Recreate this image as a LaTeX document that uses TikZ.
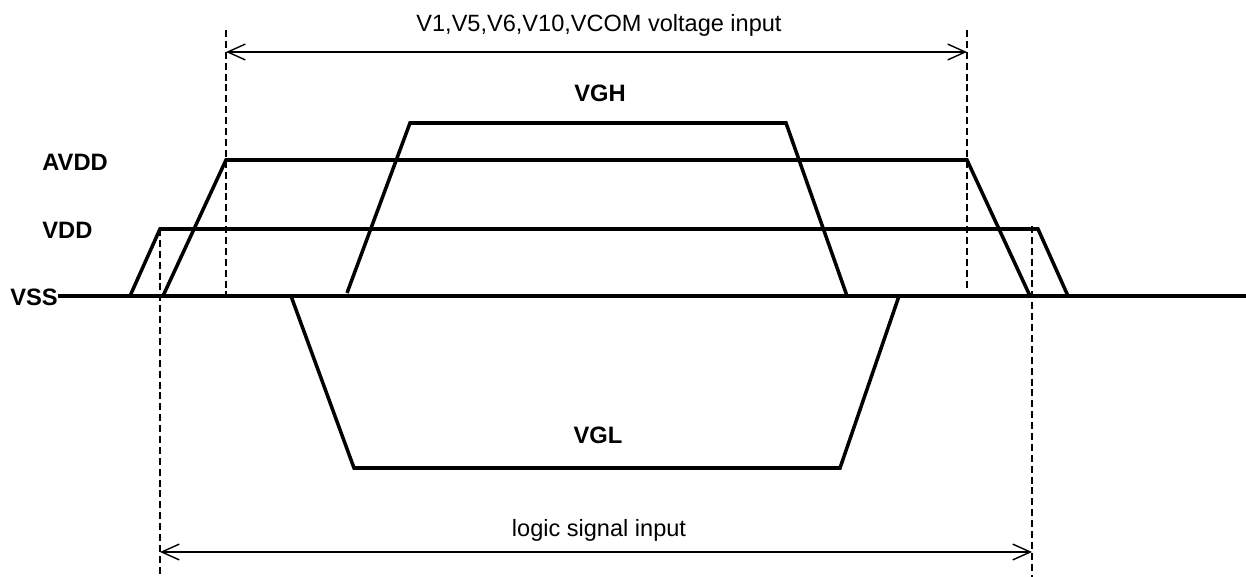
\documentclass[tikz,border=0pt]{standalone}
\usepackage{fontspec}
\setmainfont{Liberation Sans}
\usetikzlibrary{arrows.meta}

\tikzset{
  sig/.style={line width=2pt, line join=miter},
  guide/.style={line width=0.9pt, dash pattern=on 4pt off 2.2pt},
  span/.style={line width=0.8pt,
    {Straight Barb[length=10pt,width=9pt]}-{Straight Barb[length=10pt,width=9pt]}},
  lvl/.style={font=\bfseries\fontsize{13.5}{15}\selectfont, inner sep=0pt},
  txt/.style={font=\fontsize{13.4}{15}\selectfont, inner sep=0pt}
}

\begin{document}
\begin{tikzpicture}[x=0.02cm,y=-0.02cm]
\useasboundingbox (0,0) rectangle (1246,577);

% levels
\node (avdd) at (42,162) [lvl, anchor=west] {AVDD};
\node (vdd) at (42,230) [lvl, anchor=west] {VDD};
\node (vss) at (10,297) [lvl, anchor=west] {VSS};
\node (vgh) at (600,93) [lvl] {VGH};
\node (vgl) at (598,435) [lvl] {VGL};

\draw [sig] (vss.east |- 0,296) -- (1246,296);

% supplies
\draw [sig] (130,296) -- (160,229) -- (1038,229) -- (1068,296);
\draw [sig] (163,296) -- (226,160) -- (967,160) -- (1030,296);
\draw [sig] (347,293) -- (410,123) -- (786,123) -- (847,296);
\draw [sig] (291,296) -- (354,468) -- (840,468) -- (899,296);

% markers
\coordinate (a1) at (226,30);
\coordinate (a2) at (967,30);
\coordinate (l1) at (160,575);
\coordinate (l2) at (1032,577);
\draw [guide] (a1) -- (226,298);
\draw [guide] (a2) -- (967,290);
\draw [guide] (160,229) -- (l1);
\draw [guide] (1032,226) -- (l2);

% inputs
\draw [span] (a1 |- 0,52) -- (a2 |- 0,52);
\node (vin) at (599,25) [txt] {V1,V5,V6,V10,VCOM voltage input};

\draw [span] (l1 |- 0,552) -- (l2 |- 0,552);
\node (lin) at (599,530) [txt] {logic signal input};

\end{tikzpicture}
\end{document}
